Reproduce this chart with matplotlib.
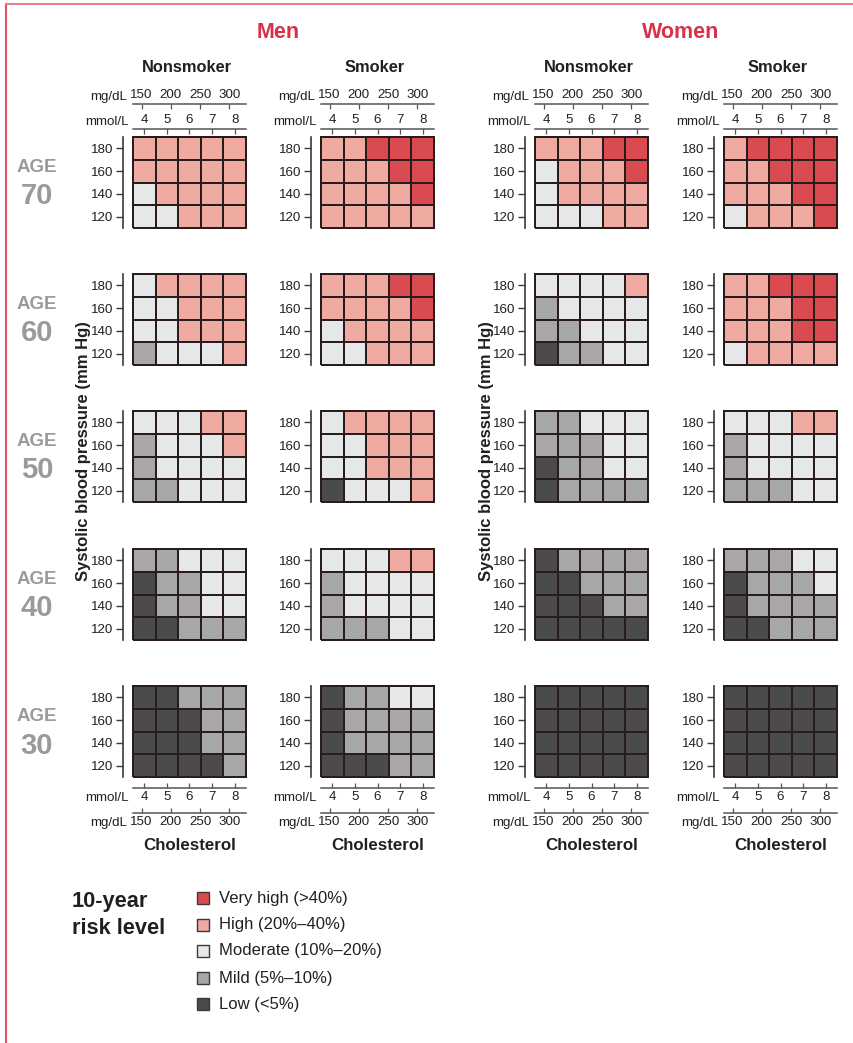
import numpy as np
import matplotlib
matplotlib.use("Agg")
import matplotlib.pyplot as plt
from matplotlib.colors import ListedColormap, BoundaryNorm
from matplotlib.patches import Rectangle
from matplotlib.lines import Line2D

plt.rcParams['font.family'] = ['Liberation Sans', 'DejaVu Sans']

# ---------------- data ----------------
ages = [70, 60, 50, 40, 30]
sbp = [180, 160, 140, 120]                 # rows, top to bottom
chol_mmol = [4, 5, 6, 7, 8]                # columns
chol_mgdl_ticks = [150, 200, 250, 300]
sexes = ["Men", "Women"]
smoking = ["Nonsmoker", "Smoker"]
risk_labels = ["Low (<5%)", "Mild (5%\u201310%)", "Moderate (10%\u201320%)",
               "High (20%\u201340%)", "Very high (>40%)"]
risk_colors = ["#4b4b4c", "#a7a7aa", "#e6e7e9", "#efaba2", "#da4b51"]

# risk level codes: 0 low, 1 mild, 2 moderate, 3 high, 4 very high
men_nonsmoker = [
    [[3, 3, 3, 3, 3], [3, 3, 3, 3, 3], [2, 3, 3, 3, 3], [2, 2, 3, 3, 3]],
    [[2, 3, 3, 3, 3], [2, 2, 3, 3, 3], [2, 2, 3, 3, 3], [1, 2, 2, 2, 3]],
    [[2, 2, 2, 3, 3], [1, 2, 2, 2, 3], [1, 2, 2, 2, 2], [1, 1, 2, 2, 2]],
    [[1, 1, 2, 2, 2], [0, 1, 1, 2, 2], [0, 1, 1, 2, 2], [0, 0, 1, 1, 1]],
    [[0, 0, 1, 1, 1], [0, 0, 0, 1, 1], [0, 0, 0, 1, 1], [0, 0, 0, 0, 1]],
]
men_smoker = [
    [[3, 3, 4, 4, 4], [3, 3, 3, 4, 4], [3, 3, 3, 3, 4], [3, 3, 3, 3, 3]],
    [[3, 3, 3, 4, 4], [3, 3, 3, 3, 4], [2, 3, 3, 3, 3], [2, 2, 3, 3, 3]],
    [[2, 3, 3, 3, 3], [2, 2, 3, 3, 3], [2, 2, 3, 3, 3], [0, 2, 2, 2, 3]],
    [[2, 2, 2, 3, 3], [1, 2, 2, 2, 2], [1, 2, 2, 2, 2], [1, 1, 1, 2, 2]],
    [[0, 1, 1, 2, 2], [0, 1, 1, 1, 1], [0, 1, 1, 1, 1], [0, 0, 0, 1, 1]],
]
women_nonsmoker = [
    [[3, 3, 3, 4, 4], [2, 3, 3, 3, 4], [2, 3, 3, 3, 3], [2, 2, 2, 3, 3]],
    [[2, 2, 2, 2, 3], [1, 2, 2, 2, 2], [1, 1, 2, 2, 2], [0, 1, 1, 2, 2]],
    [[1, 1, 2, 2, 2], [1, 1, 1, 2, 2], [0, 1, 1, 2, 2], [0, 1, 1, 1, 1]],
    [[0, 1, 1, 1, 1], [0, 0, 1, 1, 1], [0, 0, 0, 1, 1], [0, 0, 0, 0, 0]],
    [[0, 0, 0, 0, 0], [0, 0, 0, 0, 0], [0, 0, 0, 0, 0], [0, 0, 0, 0, 0]],
]
women_smoker = [
    [[3, 4, 4, 4, 4], [3, 3, 4, 4, 4], [3, 3, 3, 4, 4], [2, 3, 3, 3, 4]],
    [[3, 3, 4, 4, 4], [3, 3, 3, 4, 4], [3, 3, 3, 4, 4], [2, 3, 3, 3, 3]],
    [[2, 2, 2, 3, 3], [1, 2, 2, 2, 2], [1, 2, 2, 2, 2], [1, 1, 1, 2, 2]],
    [[1, 1, 1, 2, 2], [0, 1, 1, 1, 2], [0, 1, 1, 1, 1], [0, 0, 1, 1, 1]],
    [[0, 0, 0, 0, 0], [0, 0, 0, 0, 0], [0, 0, 0, 0, 0], [0, 0, 0, 0, 0]],
]
panels = [men_nonsmoker, men_smoker, women_nonsmoker, women_smoker]

MGDL_PER_MMOL = 38.67

# ---------------- layout (pixels) ----------------
W, H = 854, 1043
fig = plt.figure(figsize=(W / 100, H / 100), dpi=100)

col_left = [133, 321, 535, 724]
row_top = [137, 274, 411, 549, 686]
gw, gh = 113, 91

dark = "#231f20"
red_title = "#d8314a"
gray_age = "#9a9a9c"
TICK_FS = 9.6

cmap = ListedColormap(risk_colors)
norm = BoundaryNorm(np.arange(-0.5, 5.5, 1), cmap.N)

x_edges = np.arange(len(chol_mmol) + 1) + chol_mmol[0] - 0.5
y_sorted = sorted(sbp)
y_edges = np.array(y_sorted[0] - 10 + 20 * np.arange(len(sbp) + 1))


def fx(px):
    return px / W


def fy(py):
    return 1 - py / H


for ci, data in enumerate(panels):
    for ri, age in enumerate(ages):
        L, T = col_left[ci], row_top[ri]
        ax = fig.add_axes([fx(L), fy(T + gh), gw / W, gh / H])
        grid = np.array(data[ri])[::-1]      # bottom row = lowest SBP
        mesh = ax.pcolormesh(x_edges, y_edges, grid, cmap=cmap, norm=norm,
                             edgecolors="#2a1b1c", linewidth=1.3)
        mesh.set_clip_on(False)
        ax.set_xlim(x_edges[0], x_edges[-1])
        ax.set_ylim(y_edges[0], y_edges[-1])
        for s in ["top", "right", "bottom"]:
            ax.spines[s].set_visible(False)
        ax.spines["left"].set_position(("outward", 7.5))
        ax.spines["left"].set_color("#3a3a3a")
        ax.spines["left"].set_linewidth(1.2)
        ax.set_xticks([])
        ax.set_yticks(y_sorted)
        ax.tick_params(axis="y", length=5, width=1, color="#3a3a3a",
                       labelsize=TICK_FS, pad=2, labelcolor=dark)

        # cholesterol scales above (first row) / below (last row)
        if ri in (0, len(ages) - 1):
            top = ri == 0
            loc_mmol = 1 + 8 / gh if top else -11 / gh
            loc_mg = 1 + 33 / gh if top else -36 / gh
            sa = ax.secondary_xaxis(loc_mmol)
            sa.set_xticks(chol_mmol)
            sb = ax.secondary_xaxis(loc_mg, functions=(lambda m: m * MGDL_PER_MMOL,
                                                       lambda g: g / MGDL_PER_MMOL))
            sb.set_xticks(chol_mgdl_ticks)
            for s in (sa, sb):
                s.tick_params(direction="in", length=3.5, width=0.9, color="#555555",
                              labelsize=TICK_FS, pad=2, labelcolor=dark)
                for sp in s.spines.values():
                    sp.set_color("#555555")
                    sp.set_linewidth(1.1)
            y_mmol = (1 + 15 / gh) if top else (-21 / gh)
            y_mg = (1 + 40 / gh) if top else (-46 / gh)
            ax.text(-0.035, y_mmol, "mmol/L", transform=ax.transAxes, ha="right",
                    va="center", fontsize=TICK_FS, color=dark)
            ax.text(-0.055, y_mg, "mg/dL", transform=ax.transAxes, ha="right",
                    va="center", fontsize=TICK_FS, color=dark)

# column headings
for ci in range(4):
    cx = col_left[ci] + gw / 2
    fig.text(fx(cx - 3), fy(68), smoking[ci % 2], ha="center", va="center",
             fontsize=11.8, fontweight="bold", color=dark)
    fig.text(fx(cx), fy(845), "Cholesterol", ha="center", va="center",
             fontsize=12.2, fontweight="bold", color=dark)
for si, sex in enumerate(sexes):
    cx = (col_left[2 * si] + col_left[2 * si + 1] + gw) / 2
    fig.text(fx(cx - 5), fy(33), sex, ha="center", va="center",
             fontsize=15.5, fontweight="bold", color=red_title)

# age labels
for ri, age in enumerate(ages):
    cy = row_top[ri] + gh / 2
    fig.text(fx(37), fy(cy - 15), "AGE", ha="center", va="center",
             fontsize=13.5, fontweight="bold", color=gray_age)
    fig.text(fx(37), fy(cy + 14), str(age), ha="center", va="center",
             fontsize=21, fontweight="bold", color=gray_age)

# y labels
for x in (84, 487):
    fig.text(fx(x), fy(451), "Systolic blood pressure (mm Hg)", rotation=90,
             ha="center", va="center", fontsize=12, fontweight="bold", color=dark)

# legend
fig.text(fx(72), fy(902), "10-year", ha="left", va="center",
         fontsize=15.7, fontweight="bold", color=dark)
fig.text(fx(72), fy(928), "risk level", ha="left", va="center",
         fontsize=15.7, fontweight="bold", color=dark)
leg_y = [898, 925, 951, 978, 1004]
for i, lvl in enumerate(range(len(risk_labels) - 1, -1, -1)):
    cy = leg_y[i]
    fig.add_artist(Rectangle((fx(197), fy(cy + 6)), 12 / W, 12 / H,
                             transform=fig.transFigure, facecolor=risk_colors[lvl],
                             edgecolor="#3a3a3a", linewidth=1.0))
    fig.text(fx(219), fy(cy), risk_labels[lvl], ha="left", va="center",
             fontsize=12, color=dark)

# red frame
frame_c = "#e0505e"
fig.add_artist(Line2D([fx(6), fx(6)], [fy(4), 0], transform=fig.transFigure,
                      color=frame_c, linewidth=1.5))
fig.add_artist(Line2D([fx(6), 1], [fy(4), fy(4)], transform=fig.transFigure,
                      color="#e5808a", linewidth=1.5))

fig.savefig("out.png", dpi=100)
